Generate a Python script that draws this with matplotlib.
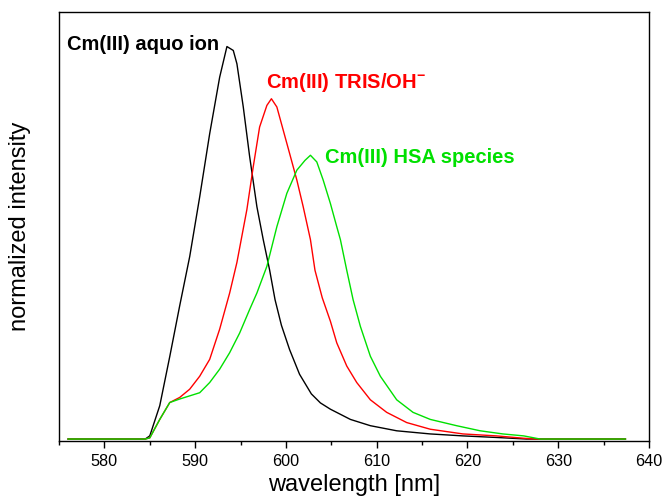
import numpy as np
import matplotlib
matplotlib.use('Agg')
import matplotlib.pyplot as plt
from matplotlib.ticker import MultipleLocator

plt.rcParams['font.family'] = ['Liberation Sans', 'DejaVu Sans']
plt.rcParams['mathtext.fontset'] = 'custom'
plt.rcParams['mathtext.rm'] = 'Liberation Sans'
plt.rcParams['mathtext.bf'] = 'Liberation Sans:bold'

# aquo ion (black)
wl_aquo = [576, 584.5, 585.0, 586.1, 587.2, 588.3, 589.4, 590.5, 591.6, 592.7, 593.5, 594.2,
           594.6, 595.3, 596.0, 596.8, 597.5, 598.2, 598.8, 599.5, 600.4, 601.5, 602.8, 603.8,
           604.9, 607.1, 609.3, 612.2, 615.9, 619.5, 623.2, 626.5, 637.4]
int_aquo = [0, 0, 0.008, 0.085, 0.21, 0.34, 0.465, 0.617, 0.778, 0.922, 1.0, 0.99,
            0.956, 0.846, 0.72, 0.592, 0.508, 0.431, 0.355, 0.29, 0.228, 0.165, 0.115, 0.092,
            0.076, 0.05, 0.034, 0.021, 0.013, 0.008, 0.004, 0.0, 0.0]

# TRIS/OH- (red)
wl_tris = [576, 584.5, 585.0, 586.1, 587.2, 588.3, 589.4, 590.5, 591.6, 592.7, 593.8, 594.6,
           595.7, 596.4, 597.1, 597.9, 598.4, 599.0, 599.7, 600.4, 601.2, 601.9, 602.7, 603.2,
           604.0, 604.9, 605.6, 606.7, 607.8, 609.3, 611.1, 613.3, 615.9, 619.5, 623.2, 626.2,
           627.5, 637.4]
int_tris = [0, 0, 0.003, 0.05, 0.093, 0.106, 0.127, 0.16, 0.203, 0.28, 0.372, 0.45,
            0.585, 0.694, 0.795, 0.85, 0.867, 0.846, 0.787, 0.728, 0.66, 0.592, 0.508, 0.43,
            0.36, 0.3, 0.245, 0.186, 0.144, 0.1, 0.068, 0.042, 0.025, 0.013, 0.008, 0.002,
            0.0, 0.0]

# HSA species (green)
wl_hsa = [576, 584.5, 585.0, 586.1, 587.2, 588.3, 589.4, 590.5, 591.6, 592.7, 593.8, 594.9,
          596.0, 596.8, 597.9, 599.0, 600.1, 601.2, 602.1, 602.7, 603.4, 604.1, 604.9, 605.6,
          606.0, 606.7, 607.4, 608.2, 609.3, 610.4, 612.2, 614.0, 615.9, 618.8, 621.4, 623.9,
          626.2, 628.0, 637.4]
int_hsa = [0, 0, 0.003, 0.05, 0.093, 0.102, 0.11, 0.118, 0.144, 0.178, 0.22, 0.27,
           0.33, 0.372, 0.44, 0.541, 0.626, 0.685, 0.71, 0.723, 0.706, 0.66, 0.6, 0.541,
           0.508, 0.43, 0.355, 0.287, 0.211, 0.16, 0.1, 0.068, 0.05, 0.034, 0.021, 0.013,
           0.008, 0.0, 0.0]

green = '#00e000'

fig = plt.figure(figsize=(6.66, 5), dpi=100)
ax = fig.add_axes([0.0886, 0.118, 0.8859, 0.858])

ax.plot(wl_aquo, int_aquo, color='black', lw=1.0)
ax.plot(wl_tris, int_tris, color='red', lw=1.0)
ax.plot(wl_hsa, int_hsa, color=green, lw=1.0)

ax.text(575.9, 0.992, 'Cm(III) aquo ion', color='black', fontsize=14.5, fontweight='bold')
ax.text(597.8, 0.894, r'Cm(III) TRIS/OH$^{\mathbf{-}}$', color='red', fontsize=14.5, fontweight='bold')
ax.text(604.3, 0.703, 'Cm(III) HSA species', color=green, fontsize=14.5, fontweight='bold')

ax.set_xlim(575, 640)
ax.set_ylim(-0.005, 1.088)
ax.xaxis.set_major_locator(MultipleLocator(10))
ax.xaxis.set_minor_locator(MultipleLocator(5))
ax.tick_params(axis='x', which='major', direction='out', length=5, width=1, labelsize=11.7, pad=4)
ax.tick_params(axis='x', which='minor', direction='out', length=3, width=1)
ax.set_yticks([])
for s in ax.spines.values():
    s.set_linewidth(1)

ax.set_xlabel('wavelength [nm]', fontsize=17, labelpad=4)
ax.set_ylabel('normalized intensity', fontsize=17, labelpad=20)

fig.savefig('out.png', dpi=100)
